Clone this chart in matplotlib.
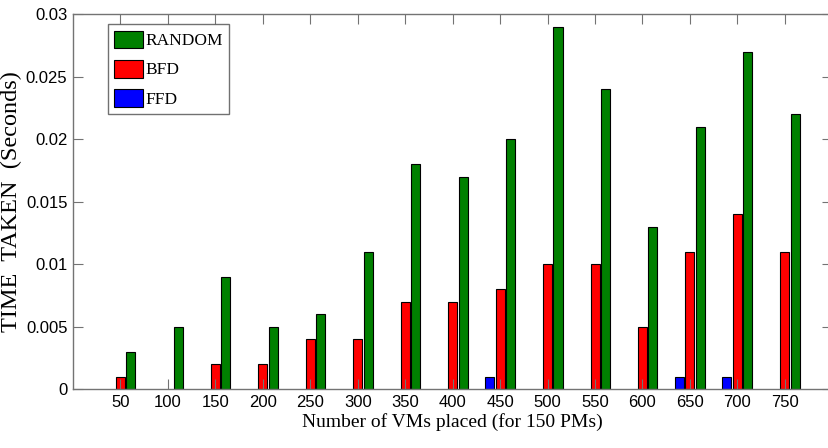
import numpy as np
import matplotlib
matplotlib.use("Agg")
import matplotlib.pyplot as plt

# data
vms = [50, 100, 150, 200, 250, 300, 350, 400, 450, 500, 550, 600, 650, 700, 750]
ffd = [0, 0, 0, 0, 0, 0, 0, 0, 0.001, 0, 0, 0, 0.001, 0.001, 0]
bfd = [0.001, 0, 0.002, 0.002, 0.004, 0.004, 0.007, 0.007, 0.008, 0.010,
       0.010, 0.005, 0.011, 0.014, 0.011]
rnd = [0.003, 0.005, 0.009, 0.005, 0.006, 0.011, 0.018, 0.017, 0.020, 0.029,
       0.024, 0.013, 0.021, 0.027, 0.022]
yticks = [0, 0.005, 0.01, 0.015, 0.02, 0.025, 0.03]
ytick_labels = ['0', '0.005', '0.01', '0.015', '0.02', '0.025', '0.03']

fig = plt.figure(figsize=(8.29, 4.48), dpi=100)
ax = fig.add_axes([0.088, 0.131, 0.916, 0.837])

x = np.arange(1, len(vms) + 1)
w = 0.19
step = 0.22


def bars(offset, vals, color, label):
    # zero-height bars are not drawn in the original (no edge line)
    lw = [0.8 if v > 0 else 0 for v in vals]
    return ax.bar(x + offset, vals, w, color=color, edgecolor='k', linewidth=lw, label=label)


b1 = bars(-step, ffd, (0, 0, 1), 'FFD')
b2 = bars(0, bfd, (1, 0, 0), 'BFD')
b3 = bars(step, rnd, (0, 0.5, 0), 'RANDOM')

ax.set_xlim(0, 16)
ax.set_ylim(0, 0.03)
ax.set_xticks(x)
ax.set_xticklabels([str(v) for v in vms], fontname='Liberation Sans', fontsize=12)
ax.set_yticks(yticks)
ax.set_yticklabels(ytick_labels, fontname='Liberation Sans', fontsize=12)
ax.tick_params(direction='in', length=7, color='0.45', top=True, right=True, pad=4)
for s in ax.spines.values():
    s.set_color('0.45')
    s.set_linewidth(1.0)

ax.set_xlabel('Number of VMs placed (for 150 PMs)', fontname='Liberation Serif', fontsize=14, labelpad=2)
ax.set_ylabel('TIME  TAKEN  (Seconds)', fontname='Liberation Serif', fontsize=17.5, labelpad=3)

leg = ax.legend([b3[1], b2[0], b1[8]], ['RANDOM', 'BFD', 'FFD'], loc='upper left',
                bbox_to_anchor=(0.046, 0.973), fancybox=False, edgecolor='0.3',
                prop={'family': 'Liberation Serif', 'size': 12.5},
                handlelength=1.7, handleheight=1.2, handletextpad=0.1,
                labelspacing=0.6, borderpad=0.35, borderaxespad=0)
leg.get_frame().set_linewidth(1.0)

fig.savefig('out.png', dpi=100)
